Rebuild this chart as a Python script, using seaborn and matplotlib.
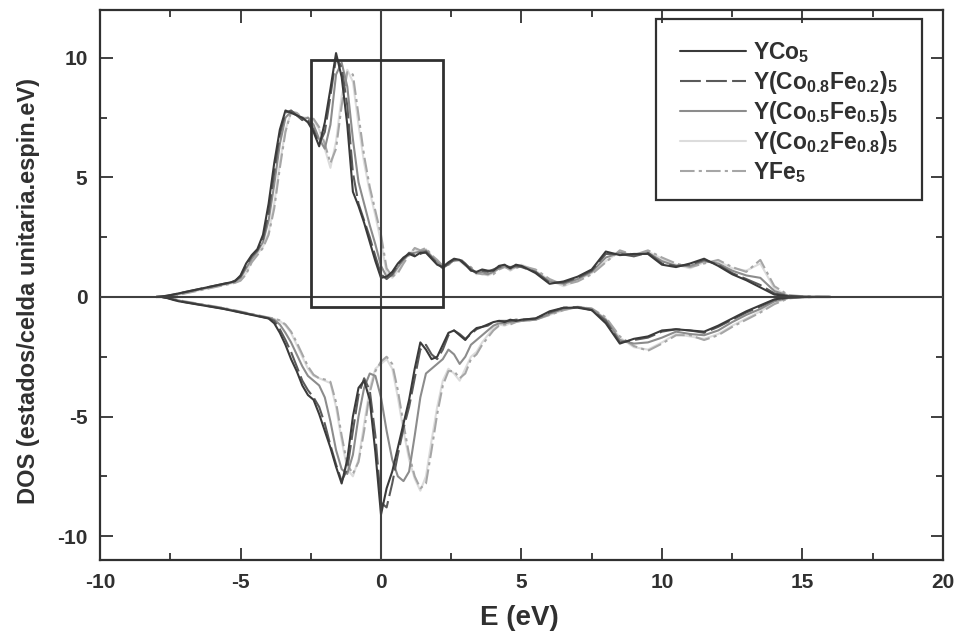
import numpy as np
import pandas as pd
import seaborn as sns
import matplotlib.pyplot as plt
from matplotlib.lines import Line2D
from matplotlib.patches import Rectangle
from matplotlib.ticker import MultipleLocator

sns.set_style('ticks')
plt.rcParams.update({
    'font.family': ['Liberation Sans', 'DejaVu Sans'],
    'font.weight': 'bold',
    'axes.unicode_minus': False,
    'mathtext.fontset': 'custom',
    'mathtext.rm': 'Liberation Sans:bold',
    'mathtext.it': 'Liberation Sans:bold',
    'mathtext.bf': 'Liberation Sans:bold',
    'mathtext.default': 'rm',
})

# energy grid (eV): 0.2 steps up to 5 eV, then 0.5 steps
energy = np.concatenate([np.round(np.arange(-8.0, 5.01, 0.2), 1),
                         np.arange(5.5, 16.01, 0.5)])

# spin up DOS
yco5_up = [0, 0.02, 0.05, 0.10, 0.15, 0.20, 0.25, 0.30, 0.35, 0.40, 0.45,
           0.50, 0.55, 0.60, 0.66, 0.90, 1.40, 1.75, 2.00, 2.60, 3.90, 5.60,
           7.00, 7.80, 7.70, 7.60, 7.50, 7.30, 6.90, 6.30, 7.30, 8.70, 10.2,
           9.20, 7.20, 4.40, 3.80, 3.10, 2.30, 1.50, 0.80, 0.85, 1.05, 1.40,
           1.65, 1.80, 1.70, 1.85, 1.85, 1.60, 1.35, 1.25, 1.45, 1.60, 1.55,
           1.35, 1.10, 1.05, 1.15, 1.10, 1.10, 1.30, 1.35, 1.20, 1.35, 1.30,
           1.00, 0.55, 0.65, 0.85, 1.15, 1.90, 1.75, 1.80, 1.80, 1.35, 1.25,
           1.40, 1.60, 1.30, 0.95, 0.70, 0.40, 0.10, 0.03, 0.0, 0.0, 0.0]
co8_up = [0, 0.02, 0.06, 0.10, 0.15, 0.20, 0.25, 0.30, 0.35, 0.40, 0.45,
          0.50, 0.55, 0.60, 0.68, 0.85, 1.30, 1.70, 1.95, 2.40, 3.50, 5.20,
          6.80, 7.70, 7.80, 7.60, 7.40, 7.40, 7.00, 6.40, 6.90, 8.40, 10.0,
          9.60, 8.00, 5.20, 3.90, 3.20, 2.50, 1.70, 0.95, 0.75, 0.95, 1.35,
          1.60, 1.85, 1.75, 1.80, 1.90, 1.65, 1.40, 1.20, 1.40, 1.55, 1.60,
          1.40, 1.15, 1.00, 1.10, 1.05, 1.15, 1.25, 1.30, 1.25, 1.30, 1.25,
          1.05, 0.60, 0.60, 0.80, 1.10, 1.80, 1.80, 1.70, 1.85, 1.40, 1.30,
          1.35, 1.55, 1.35, 1.00, 0.75, 0.50, 0.15, 0.04, 0.01, 0.0, 0.0]
co5_up = [0, 0.01, 0.04, 0.08, 0.13, 0.18, 0.23, 0.28, 0.33, 0.38, 0.43,
          0.48, 0.53, 0.58, 0.64, 0.80, 1.20, 1.60, 1.90, 2.30, 3.20, 4.70,
          6.40, 7.50, 7.75, 7.60, 7.40, 7.50, 7.20, 6.60, 6.20, 7.20, 9.30,
          9.80, 8.80, 6.60, 4.80, 3.90, 3.00, 2.20, 1.30, 0.85, 0.90, 1.25,
          1.55, 1.80, 1.85, 1.90, 1.95, 1.70, 1.45, 1.25, 1.35, 1.55, 1.55,
          1.35, 1.20, 1.00, 1.05, 0.95, 1.05, 1.20, 1.30, 1.20, 1.25, 1.30,
          1.05, 0.65, 0.55, 0.75, 1.05, 1.65, 1.85, 1.75, 1.85, 1.50, 1.30,
          1.30, 1.50, 1.40, 1.10, 0.90, 0.80, 0.25, 0.05, 0.01, 0.0, 0.0]
co2_up = [0, 0, 0.02, 0.06, 0.10, 0.15, 0.20, 0.25, 0.30, 0.35, 0.40,
          0.45, 0.50, 0.55, 0.60, 0.70, 1.00, 1.50, 1.80, 2.10, 2.70, 3.90,
          5.60, 7.00, 7.70, 7.60, 7.50, 7.50, 7.40, 7.00, 6.20, 5.40, 6.50,
          8.40, 9.50, 9.00, 7.20, 5.60, 4.40, 3.40, 2.30, 1.00, 0.80, 1.10,
          1.50, 1.80, 2.00, 1.90, 2.00, 1.70, 1.50, 1.30, 1.40, 1.55, 1.50,
          1.30, 1.20, 0.95, 1.00, 0.90, 1.00, 1.20, 1.30, 1.10, 1.25, 1.35,
          1.10, 0.70, 0.45, 0.70, 1.00, 1.50, 1.90, 1.70, 1.90, 1.60, 1.35,
          1.20, 1.45, 1.50, 1.20, 1.10, 1.40, 0.35, 0.05, 0.02, 0.01, 0.0]
yfe5_up = [0, 0, 0.02, 0.05, 0.09, 0.14, 0.19, 0.24, 0.29, 0.34, 0.39,
           0.44, 0.49, 0.54, 0.59, 0.68, 0.95, 1.45, 1.75, 2.05, 2.60, 3.70,
           5.40, 6.90, 7.75, 7.70, 7.50, 7.45, 7.45, 7.10, 6.40, 5.60, 6.20,
           8.00, 9.40, 9.30, 7.60, 5.90, 4.60, 3.60, 2.60, 1.20, 0.85, 1.00,
           1.40, 1.75, 2.05, 1.95, 2.05, 1.75, 1.55, 1.30, 1.35, 1.50, 1.55,
           1.35, 1.25, 1.00, 0.95, 0.95, 0.95, 1.15, 1.25, 1.15, 1.20, 1.30,
           1.15, 0.75, 0.50, 0.65, 0.95, 1.45, 1.95, 1.75, 1.95, 1.65, 1.40,
           1.25, 1.40, 1.55, 1.25, 1.05, 1.55, 0.45, 0.08, 0.03, 0.01, 0.0]

# spin down DOS
yco5_dn = [0, 0, -0.05, -0.12, -0.18, -0.22, -0.26, -0.30, -0.34, -0.38, -0.42,
           -0.46, -0.50, -0.55, -0.60, -0.65, -0.70, -0.75, -0.80, -0.85, -0.90, -1.10,
           -1.50, -2.00, -2.60, -3.10, -3.70, -4.10, -4.30, -4.90, -5.60, -6.30, -7.10,
           -7.80, -6.80, -5.00, -3.80, -3.50, -4.30, -6.50, -9.10, -8.00, -7.30, -6.30,
           -5.30, -4.30, -3.00, -1.90, -2.20, -2.60, -2.50, -2.00, -1.50, -1.40, -1.60,
           -1.80, -1.50, -1.30, -1.25, -1.15, -1.05, -1.00, -1.05, -0.95, -1.00, -0.95,
           -0.90, -0.60, -0.45, -0.45, -0.55, -1.10, -1.95, -1.75, -1.65, -1.40, -1.35,
           -1.40, -1.45, -1.20, -0.90, -0.60, -0.35, -0.10, -0.02, 0, 0, 0]
co8_dn = [0, 0, -0.04, -0.10, -0.16, -0.21, -0.25, -0.29, -0.33, -0.37, -0.41,
          -0.45, -0.49, -0.54, -0.59, -0.64, -0.69, -0.74, -0.79, -0.84, -0.89, -1.00,
          -1.35, -1.80, -2.30, -2.90, -3.50, -3.90, -4.20, -4.60, -5.30, -6.20, -7.00,
          -7.70, -7.20, -5.60, -4.10, -3.40, -3.90, -5.80, -8.60, -8.80, -7.80, -6.60,
          -5.50, -4.60, -3.40, -2.20, -2.00, -2.40, -2.60, -2.20, -1.60, -1.40, -1.55,
          -1.75, -1.55, -1.35, -1.25, -1.20, -1.05, -1.00, -1.00, -1.00, -0.95, -0.95,
          -0.90, -0.65, -0.45, -0.42, -0.55, -1.00, -1.90, -1.80, -1.70, -1.45, -1.35,
          -1.40, -1.50, -1.25, -0.95, -0.65, -0.40, -0.12, -0.03, 0, 0, 0]
co5_dn = [0, 0, -0.03, -0.09, -0.15, -0.20, -0.24, -0.28, -0.32, -0.36, -0.40,
          -0.44, -0.48, -0.53, -0.58, -0.63, -0.68, -0.73, -0.78, -0.83, -0.88, -0.95,
          -1.15, -1.50, -1.90, -2.40, -2.90, -3.30, -3.50, -3.70, -4.20, -5.20, -6.40,
          -7.20, -7.40, -6.60, -5.00, -3.80, -3.20, -3.30, -4.20, -5.60, -6.80, -7.50,
          -7.70, -7.30, -5.80, -4.20, -3.20, -3.00, -2.80, -2.60, -2.20, -2.40, -2.80,
          -2.50, -2.00, -1.80, -1.60, -1.40, -1.20, -1.10, -1.10, -1.05, -1.00, -1.00,
          -0.95, -0.70, -0.50, -0.42, -0.50, -0.95, -1.80, -1.95, -1.90, -1.70, -1.45,
          -1.55, -1.60, -1.40, -1.05, -0.75, -0.50, -0.18, -0.04, -0.01, 0, 0]
co2_dn = [0, 0, -0.03, -0.08, -0.14, -0.19, -0.23, -0.27, -0.31, -0.35, -0.39,
          -0.43, -0.47, -0.52, -0.57, -0.62, -0.67, -0.72, -0.77, -0.82, -0.87, -0.92,
          -1.00, -1.20, -1.50, -2.00, -2.50, -3.00, -3.30, -3.40, -3.50, -3.60, -4.60,
          -6.00, -7.20, -7.50, -6.80, -5.30, -3.80, -3.00, -2.80, -2.60, -3.00, -4.20,
          -5.60, -6.80, -7.60, -8.10, -7.50, -6.00, -4.60, -3.50, -3.00, -3.20, -3.50,
          -3.00, -2.50, -2.30, -1.90, -1.60, -1.30, -1.15, -1.20, -1.10, -1.05, -1.00,
          -0.95, -0.75, -0.55, -0.40, -0.50, -0.90, -1.70, -2.10, -2.20, -1.90, -1.55,
          -1.65, -1.75, -1.55, -1.20, -0.90, -0.60, -0.25, -0.05, -0.01, 0, 0]
yfe5_dn = [0, 0, -0.03, -0.08, -0.13, -0.18, -0.22, -0.26, -0.30, -0.34, -0.38,
           -0.42, -0.46, -0.51, -0.56, -0.61, -0.66, -0.71, -0.76, -0.81, -0.86, -0.90,
           -0.98, -1.15, -1.45, -1.90, -2.40, -2.90, -3.25, -3.40, -3.45, -3.55, -4.40,
           -5.80, -7.00, -7.40, -6.90, -5.60, -4.00, -3.10, -2.70, -2.50, -2.80, -3.90,
           -5.30, -6.60, -7.50, -8.00, -7.80, -6.40, -4.90, -3.70, -3.10, -3.10, -3.40,
           -3.20, -2.60, -2.40, -2.00, -1.70, -1.40, -1.20, -1.15, -1.15, -1.05, -1.00,
           -0.95, -0.75, -0.55, -0.42, -0.48, -0.85, -1.65, -2.05, -2.25, -1.95, -1.60,
           -1.60, -1.80, -1.60, -1.25, -0.95, -0.65, -0.30, -0.06, -0.01, 0, 0]

labels = [r'YCo$_5$', r'Y(Co$_{0.8}$Fe$_{0.2}$)$_5$', r'Y(Co$_{0.5}$Fe$_{0.5}$)$_5$',
          r'Y(Co$_{0.2}$Fe$_{0.8}$)$_5$', r'YFe$_5$']
ups = [yco5_up, co8_up, co5_up, co2_up, yfe5_up]
downs = [yco5_dn, co8_dn, co5_dn, co2_dn, yfe5_dn]
colors = ['#3a3a3a', '#5a5a5a', '#8c8c8c', '#dcdcdc', '#a6a6a6']
dashes = [None, (10, 2.5), None, None, (7, 2, 1.5, 2)]
zorders = [6, 5, 4, 2, 3]

ink = '#303030'
fig = plt.figure(figsize=(9.58, 6.42), dpi=100, facecolor='white')
ax = fig.add_axes([0.1044, 0.1277, 0.8799, 0.8567])

for lab, up, dn, c, d, z in zip(labels, ups, downs, colors, dashes, zorders):
    for vals in (up, dn):
        sns.lineplot(x=energy, y=vals, ax=ax, color=c, lw=1.5, zorder=z)
        if d is not None:
            ax.lines[-1].set_dashes(d)

ax.axhline(0, color='#404040', lw=1.5, zorder=7)
ax.axvline(0, color='#404040', lw=1.5, zorder=7)
ax.add_patch(Rectangle((-2.5, -0.4), 4.7, 10.3, fill=False, lw=2.0, ec=ink, zorder=8))

ax.set_xlim(-10, 20)
ax.set_ylim(-11, 12)
ax.xaxis.set_major_locator(MultipleLocator(5))
ax.xaxis.set_minor_locator(MultipleLocator(2.5))
ax.yaxis.set_major_locator(MultipleLocator(5))
ax.yaxis.set_minor_locator(MultipleLocator(2.5))
ax.tick_params(which='both', direction='in', top=True, right=True, color=ink,
               width=1.3, labelsize=15, labelcolor=ink, pad=9)
ax.tick_params(which='major', length=9)
ax.tick_params(which='minor', length=5)
for s in ax.spines.values():
    s.set_linewidth(1.6)
    s.set_color(ink)

ax.set_xlabel('E (eV)', fontsize=20, fontweight='bold', color=ink)
ax.set_ylabel('DOS (estados/celda unitaria.espin.eV)', fontsize=17,
              fontweight='bold', color=ink)
ax.xaxis.set_label_coords(0.498, -0.082)
ax.yaxis.set_label_coords(-0.071, 0.49)

# legend with its own square frame
ax.add_patch(Rectangle((0.66, 0.6545), 0.315, 0.329, transform=ax.transAxes,
                       fill=False, lw=1.6, ec=ink, zorder=9))
handles = []
for c, d in zip(colors, dashes):
    h = Line2D([], [], color=c, lw=1.5)
    if d is not None:
        h.set_dashes(d)
    handles.append(h)
leg = ax.legend(handles, labels, loc='upper left', bbox_to_anchor=(0.688, 0.945),
                frameon=False, fontsize=16.5, handlelength=2.9, handletextpad=0.3,
                labelspacing=0.15, borderpad=0, borderaxespad=0)
for t in leg.get_texts():
    t.set_color(ink)
leg.set_zorder(10)

fig.savefig('out.png', dpi=100, facecolor='white')
